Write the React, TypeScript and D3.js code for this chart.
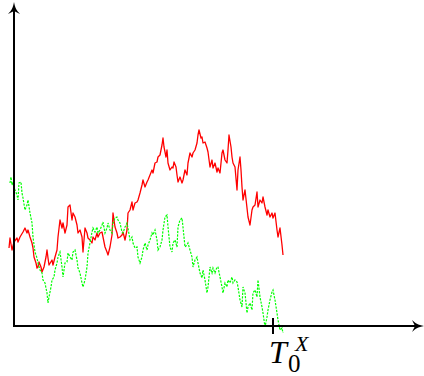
import { useMemo } from "react";
import * as d3 from "d3";

// Sample paths: [time step, value]
const redPath: [number, number][] = [
  [-5, 78], [-4, 88], [-2, 76], [0, 84], [3, 88], [4, 84], [6, 89], [9, 94], [11, 98], [13, 93],
  [14, 96], [16, 89], [18, 83], [19, 78], [20, 69], [22, 63], [23, 58], [24, 59], [25, 64], [27, 59],
  [28, 54], [30, 59], [32, 69], [33, 76], [34, 68], [35, 61], [38, 66], [39, 61], [41, 69], [43, 76],
  [44, 89], [46, 106], [48, 98], [49, 103], [51, 93], [53, 101], [54, 119], [56, 121], [58, 106], [59, 113],
  [61, 109], [63, 101], [64, 93], [66, 96], [68, 89], [69, 74], [71, 98], [73, 93], [74, 88], [76, 86],
  [78, 83], [79, 89], [81, 86], [83, 93], [84, 89], [86, 93], [88, 94], [89, 89], [91, 79], [93, 74],
  [94, 71], [96, 79], [98, 91], [99, 113], [101, 99], [103, 93], [104, 88], [106, 89], [108, 91], [109, 94],
  [111, 86], [113, 96], [114, 113], [116, 116], [118, 124], [119, 116], [121, 123], [123, 124], [124, 126], [126, 133],
  [128, 141], [129, 146], [131, 139], [133, 144], [134, 146], [136, 151], [138, 156], [139, 153], [141, 163], [143, 164],
  [144, 169], [146, 171], [147, 176], [148, 181], [149, 188], [150, 179], [152, 169], [153, 176], [154, 163], [156, 156],
  [158, 159], [159, 158], [160, 164], [162, 159], [163, 151], [164, 144], [166, 149], [168, 143], [169, 146], [171, 156],
  [173, 151], [174, 163], [176, 173], [178, 169], [179, 173], [181, 176], [183, 183], [184, 191], [185, 196], [187, 188],
  [188, 189], [189, 183], [191, 184], [193, 178], [194, 174], [196, 159], [198, 166], [199, 158], [201, 163], [203, 154],
  [204, 158], [206, 153], [208, 173], [209, 176], [211, 166], [213, 163], [214, 176], [215, 191], [217, 179], [218, 169],
  [219, 163], [221, 159], [223, 136], [224, 156], [226, 169], [227, 156], [228, 139], [229, 126], [231, 136], [233, 118],
  [234, 109], [236, 101], [238, 116], [239, 119], [241, 121], [243, 134], [244, 119], [246, 126], [248, 123], [249, 129],
  [251, 119], [253, 111], [254, 116], [256, 109], [258, 113], [259, 108], [261, 113], [263, 96], [264, 89], [266, 98],
  [268, 81], [269, 71],
];

const greenPath: [number, number][] = [
  [-4, 143], [-3, 149], [-2, 141], [-1, 144], [1, 136], [3, 131], [4, 126], [5, 143], [7, 144], [8, 133],
  [9, 128], [11, 116], [13, 121], [14, 126], [16, 113], [18, 103], [19, 89], [21, 74], [23, 68], [24, 63],
  [26, 56], [28, 53], [29, 46], [31, 43], [33, 33], [34, 23], [35, 29], [37, 39], [38, 46], [40, 49],
  [41, 56], [43, 63], [44, 69], [46, 74], [48, 59], [49, 49], [51, 63], [53, 64], [54, 73], [56, 69],
  [58, 66], [59, 74], [61, 76], [63, 66], [64, 58], [66, 53], [68, 43], [69, 39], [71, 46], [73, 59],
  [74, 73], [76, 83], [78, 94], [79, 98], [81, 94], [83, 99], [84, 93], [86, 96], [88, 101], [89, 104],
  [91, 93], [93, 98], [94, 103], [96, 96], [98, 93], [99, 103], [101, 108], [103, 109], [104, 106], [106, 103],
  [108, 94], [109, 93], [111, 99], [113, 103], [114, 98], [116, 86], [118, 89], [119, 83], [121, 78], [123, 79],
  [124, 69], [126, 63], [128, 69], [129, 76], [131, 83], [133, 76], [134, 81], [136, 86], [138, 93], [139, 91],
  [141, 96], [143, 86], [144, 76], [146, 79], [148, 86], [149, 96], [151, 109], [153, 111], [154, 99], [156, 79],
  [158, 74], [159, 83], [161, 86], [163, 79], [164, 99], [166, 106], [168, 108], [169, 99], [171, 79], [173, 81],
  [174, 83], [176, 76], [178, 69], [179, 59], [181, 66], [183, 69], [184, 63], [186, 53], [188, 48], [189, 56],
  [191, 46], [193, 33], [194, 39], [196, 59], [198, 53], [199, 58], [201, 53], [203, 59], [204, 59], [206, 49],
  [208, 39], [209, 33], [211, 43], [213, 39], [214, 46], [216, 43], [218, 49], [219, 43], [221, 46], [223, 44],
  [224, 39], [226, 26], [228, 19], [229, 39], [231, 33], [233, 13], [234, 19], [236, 23], [238, 16], [239, 33],
  [241, 36], [243, 29], [244, 46], [246, 29], [248, 19], [249, 13], [251, -1], [253, 9], [254, 16], [256, 26],
  [258, 34], [259, 36], [261, 26], [263, 13], [264, 6], [266, -4], [268, -2], [269, -7],
];

// hitting time of the green path, marked on the time axis
const hitTime = 259;

const W = 424;
const H = 376;

export default function App() {
  const x = useMemo(() => d3.scaleLinear().domain([0, 410]).range([14, 424]), []);
  const y = useMemo(() => d3.scaleLinear().domain([0, 323]).range([326, 3]), []);

  const line = d3
    .line<[number, number]>()
    .x((d) => x(d[0]))
    .y((d) => y(d[1]));

  const x0 = x(0);
  const y0 = y(0);
  const xEnd = x.range()[1];
  const yTop = y.range()[1];
  const xt = x(hitTime);

  return (
    <div style={{ position: "fixed", left: 0, top: 0 }}>
      <svg width={W} height={H} style={{ display: "block", background: "#fff" }}>
        {/* paths */}
        <path d={line(redPath) ?? ""} fill="none" stroke="#ff0000" strokeWidth={1.3} strokeLinejoin="round" />
        <path
          d={line(greenPath) ?? ""}
          fill="none"
          stroke="#00ff00"
          strokeWidth={1.2}
          strokeDasharray="2.2 1.3"
        />

        {/* axes */}
        <line x1={x0} x2={x0} y1={y0 + 1} y2={yTop + 4} stroke="#000" strokeWidth={2} />
        <line x1={x0 - 1} x2={xEnd - 4} y1={y0} y2={y0} stroke="#000" strokeWidth={2} />
        <path
          d={`M${x0},${yTop - 1} C${x0 + 1},${yTop + 5} ${x0 + 3},${yTop + 8} ${x0 + 6},${yTop + 11} L${x0},${yTop + 8} L${x0 - 6},${yTop + 11} C${x0 - 3},${yTop + 8} ${x0 - 1},${yTop + 5} ${x0},${yTop - 1}Z`}
          fill="#000"
        />
        <path
          d={`M${xEnd},${y0} C${xEnd - 6},${y0 - 1} ${xEnd - 9},${y0 - 3} ${xEnd - 12},${y0 - 6} L${xEnd - 9},${y0} L${xEnd - 12},${y0 + 6} C${xEnd - 9},${y0 + 3} ${xEnd - 6},${y0 + 1} ${xEnd},${y0}Z`}
          fill="#000"
        />

        {/* T_0^X tick and label */}
        <line x1={xt} x2={xt} y1={y0 - 8} y2={y0 + 8} stroke="#000" strokeWidth={2} />
        <g fontFamily="'Liberation Serif', 'DejaVu Serif', serif" fill="#000">
          <text x={xt - 4} y={y0 + 37} fontSize={32} fontStyle="italic">
            T
          </text>
          <text x={xt + 15} y={y0 + 46} fontSize={25}>
            0
          </text>
          <text x={xt + 22} y={y0 + 25} fontSize={22} fontStyle="italic">
            X
          </text>
        </g>
      </svg>
    </div>
  );
}
